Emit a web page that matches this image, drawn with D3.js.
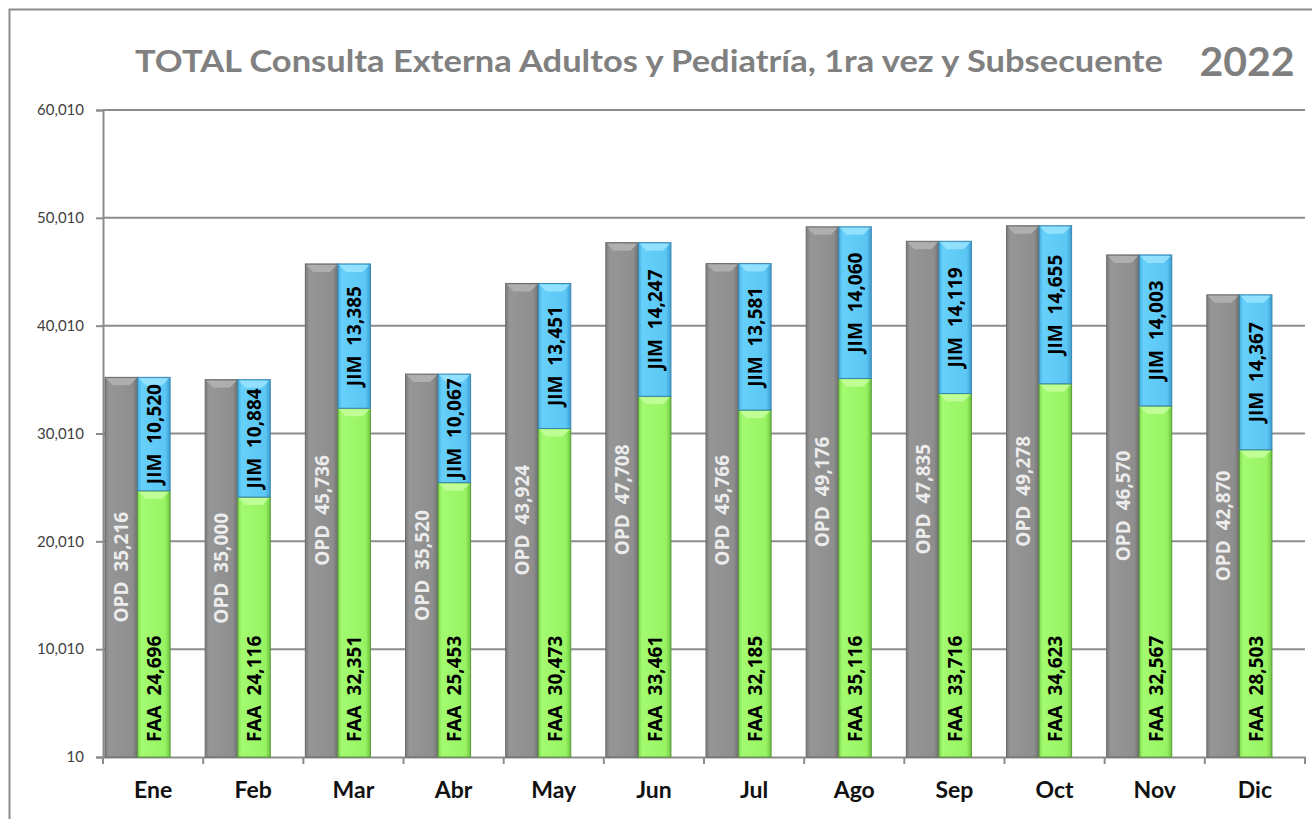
<!DOCTYPE html>
<html>
<head>
<meta charset="utf-8">
<script src="https://cdn.jsdelivr.net/npm/d3@7"></script>
<style>
  body { margin: 0; background: #fff; }
  svg { display: block; font-family: Lato, "Open Sans", sans-serif; }
</style>
</head>
<body>
<div id="chart"></div>
<script>
// data
const months = ['Ene', 'Feb', 'Mar', 'Abr', 'May', 'Jun', 'Jul', 'Ago', 'Sep', 'Oct', 'Nov', 'Dic'];
const faa = [24696, 24116, 32351, 25453, 30473, 33461, 32185, 35116, 33716, 34623, 32567, 28503];
const jim = [10520, 10884, 13385, 10067, 13451, 14247, 13581, 14060, 14119, 14655, 14003, 14367];
const opd = [35216, 35000, 45736, 35520, 43924, 47708, 45766, 49176, 47835, 49278, 46570, 42870];
const yTicks = [10, 10010, 20010, 30010, 40010, 50010, 60010];

const width = 1312;
const height = 819;
const fmt = d3.format(',');

const svg = d3.select('#chart')
    .append('svg')
    .attr('width', width)
    .attr('height', height);

// outer frame (right / bottom edges fall outside the picture)
svg.append('rect')
    .attr('x', 9.5).attr('y', 9.5)
    .attr('width', 1400).attr('height', 900)
    .attr('fill', 'none')
    .attr('stroke', '#8c8c8c')
    .attr('stroke-width', 2);

// title
svg.append('text')
    .attr('x', 135).attr('y', 72)
    .attr('font-size', 30)
    .attr('font-weight', 'bold')
    .attr('fill', '#808080')
    .attr('textLength', 1028)
    .attr('lengthAdjust', 'spacingAndGlyphs')
    .text('TOTAL Consulta Externa Adultos y Pediatría, 1ra vez y Subsecuente');

svg.append('text')
    .attr('x', 1247).attr('y', 76)
    .attr('text-anchor', 'middle')
    .attr('font-size', 41)
    .attr('font-weight', 'bold')
    .attr('fill', '#7f7f7f')
    .text('2022');

const x = d3.scaleBand()
    .domain(months)
    .range([103, 1305])
    .paddingInner(0)
    .paddingOuter(0);

const bw = x.bandwidth();

const x1 = d3.scaleBand()
    .domain(['opd', 'stack'])
    .range([bw * 0.02, bw * 0.67])
    .padding(0);

const y = d3.scaleLinear()
    .domain([10, 60010])
    .range([757, 110]);

// gridlines
svg.append('g')
    .selectAll('line')
    .data(yTicks.slice(1))
    .enter()
    .append('line')
    .attr('x1', 103).attr('x2', 1305)
    .attr('y1', d => y(d)).attr('y2', d => y(d))
    .attr('stroke', '#8c8c8c')
    .attr('stroke-width', 2);

// y axis
const yAxis = svg.append('g')
    .attr('transform', 'translate(103,0)')
    .call(d3.axisLeft(y).tickValues(yTicks).tickFormat(fmt).tickSize(7).tickPadding(12));
yAxis.select('.domain').attr('stroke', '#8c8c8c').attr('stroke-width', 2);
yAxis.selectAll('.tick line').attr('stroke', '#8c8c8c').attr('stroke-width', 2);
yAxis.selectAll('.tick text')
    .attr('font-size', 15)
    .attr('font-family', 'Lato, sans-serif')
    .attr('fill', '#404040');

// x axis
const xAxis = svg.append('g')
    .attr('transform', 'translate(0,757)')
    .call(d3.axisBottom(x).tickSize(0).tickPadding(25));
xAxis.select('.domain').attr('stroke', '#8c8c8c').attr('stroke-width', 2);
xAxis.selectAll('.tick text')
    .attr('font-size', 23)
    .attr('font-weight', 'bold')
    .attr('font-family', 'Lato, sans-serif')
    .attr('fill', '#111');

// category boundary ticks
svg.append('g')
    .selectAll('line')
    .data(months.concat(['end']))
    .enter()
    .append('line')
    .attr('x1', (d, i) => i < 12 ? x(d) : 1305)
    .attr('x2', (d, i) => i < 12 ? x(d) : 1305)
    .attr('y1', 757).attr('y2', 764)
    .attr('stroke', '#8c8c8c')
    .attr('stroke-width', 2);

// gradients for a bevelled look
const defs = svg.append('defs');
const palette = {
    opd: ['#7a7a7a', '#969696', '#8e8e8e', '#6e6e6e'],
    faa: ['#7fd94f', '#a3fb70', '#98f363', '#6cc33e'],
    jim: ['#44ace0', '#66d0fb', '#5cc6f4', '#3a9dd0']
};
Object.entries(palette).forEach(([key, c]) => {
    const g = defs.append('linearGradient').attr('id', 'g-' + key)
        .attr('x1', 0).attr('x2', 1).attr('y1', 0).attr('y2', 0);
    g.append('stop').attr('offset', '0%').attr('stop-color', c[0]);
    g.append('stop').attr('offset', '12%').attr('stop-color', c[1]);
    g.append('stop').attr('offset', '85%').attr('stop-color', c[2]);
    g.append('stop').attr('offset', '100%').attr('stop-color', c[3]);
});
const bevel = { opd: '#b4b4b4', faa: '#c6ff9c', jim: '#9ae4ff' };
const edge = { opd: '#6a6a6a', faa: '#5a9a3a', jim: '#3a86b0' };

// build segment list from the arrays
const segments = [];
months.forEach((m, i) => {
    segments.push({ key: 'opd', m, x: x(m) + x1('opd'), y0: 10, y1: opd[i], label: 'OPD  ' + fmt(opd[i]) });
    segments.push({ key: 'faa', m, x: x(m) + x1('stack'), y0: 10, y1: faa[i], label: 'FAA  ' + fmt(faa[i]) });
    segments.push({ key: 'jim', m, x: x(m) + x1('stack'), y0: faa[i], y1: faa[i] + jim[i], label: 'JIM  ' + fmt(jim[i]) });
});
const sw = x1.bandwidth();

const seg = svg.append('g')
    .selectAll('g')
    .data(segments)
    .enter()
    .append('g');

seg.append('rect')
    .attr('x', d => d.x)
    .attr('y', d => y(d.y1))
    .attr('width', sw)
    .attr('height', d => y(d.y0) - y(d.y1))
    .attr('fill', d => `url(#g-${d.key})`)
    .attr('stroke', d => edge[d.key])
    .attr('stroke-width', 1);

// top bevel
seg.append('path')
    .attr('d', d => {
        const t = y(d.y1) + 1, l = d.x + 1, r = d.x + sw - 1, h = 7;
        return `M${l},${t}L${r},${t}L${r - h},${t + h}L${l + h},${t + h}Z`;
    })
    .attr('fill', d => bevel[d.key])
    .attr('opacity', 0.85);

// labels
seg.append('text')
    .attr('transform', d => {
        const cx = d.x + sw / 2;
        const cy = d.key === 'faa' ? y(d.y0) - 15 : (y(d.y0) + y(d.y1)) / 2;
        return `translate(${cx},${cy}) rotate(-90)`;
    })
    .attr('text-anchor', d => d.key === 'faa' ? 'start' : 'middle')
    .attr('dominant-baseline', 'central')
    .attr('font-family', '"Open Sans", sans-serif')
    .attr('font-size', 19)
    .attr('font-weight', 'bold')
    .attr('fill', d => d.key === 'opd' ? '#ececec' : '#000')
    .attr('xml:space', 'preserve')
    .style('white-space', 'pre')
    .text(d => d.label);
</script>
</body>
</html>
